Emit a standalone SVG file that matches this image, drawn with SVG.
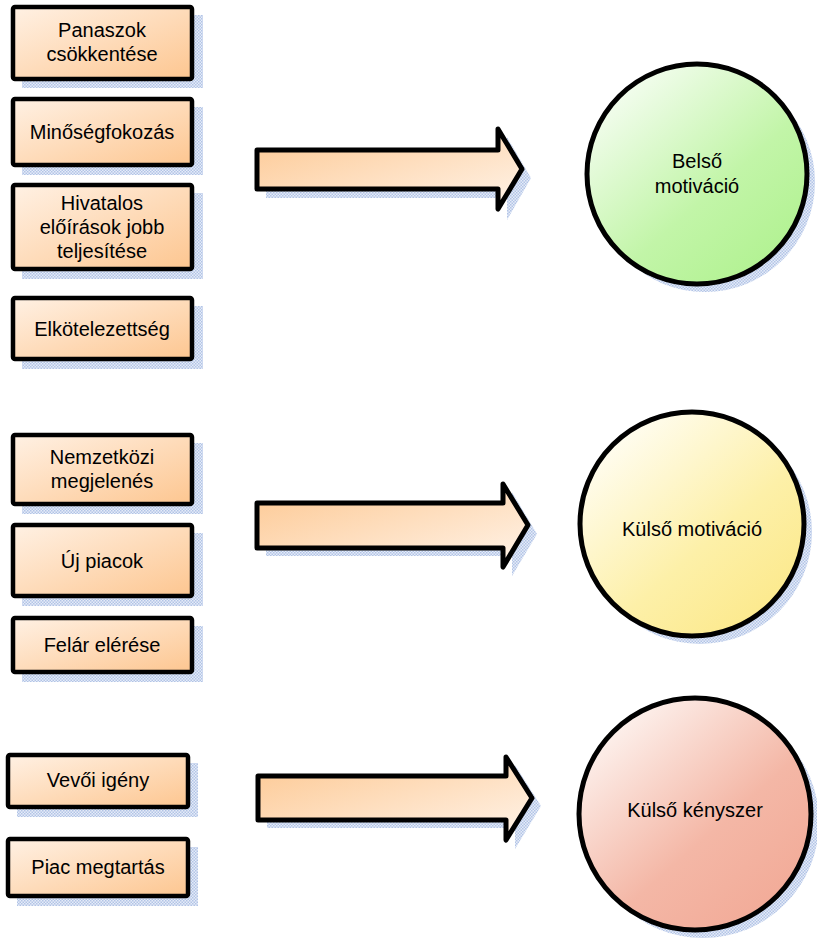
<svg xmlns="http://www.w3.org/2000/svg" width="817" height="938" viewBox="0 0 817 938">
<defs>
<pattern id="chk" width="3" height="3" patternUnits="userSpaceOnUse">
<rect width="3" height="3" fill="#dfe7f6"/>
<rect width="1.5" height="1.5" fill="#9fb5e0"/>
<rect x="1.5" y="1.5" width="1.5" height="1.5" fill="#9fb5e0"/>
</pattern>
<linearGradient id="boxg" x1="0" y1="0" x2="1" y2="1">
<stop offset="0" stop-color="#fff1e4"/>
<stop offset="1" stop-color="#fdc690"/>
</linearGradient>
<linearGradient id="arrg" x1="0" y1="0" x2="1" y2="1">
<stop offset="0" stop-color="#fdc892"/>
<stop offset="1" stop-color="#fff4ea"/>
</linearGradient>
<linearGradient id="gg" x1="0.15" y1="0.1" x2="0.85" y2="0.9">
<stop offset="0" stop-color="#f4fdf0"/>
<stop offset="0.6" stop-color="#c2f5a8"/>
<stop offset="1" stop-color="#b2f292"/>
</linearGradient>
<linearGradient id="yg" x1="0.15" y1="0.1" x2="0.85" y2="0.9">
<stop offset="0" stop-color="#fffdf2"/>
<stop offset="0.6" stop-color="#fdf0a8"/>
<stop offset="1" stop-color="#fce98c"/>
</linearGradient>
<linearGradient id="rg" x1="0.15" y1="0.1" x2="0.85" y2="0.9">
<stop offset="0" stop-color="#fdf2ee"/>
<stop offset="0.6" stop-color="#f4b7a6"/>
<stop offset="1" stop-color="#f2ab98"/>
</linearGradient>
</defs>
<style>
.box{fill:url(#boxg);stroke:#000;stroke-width:4.5;}
.sh{fill:url(#chk);opacity:0.8;}
.arr{fill:url(#arrg);stroke:#000;stroke-width:5;stroke-linejoin:round;}
.circ{stroke:#000;stroke-width:5;}
text{font-family:"Liberation Sans",Arial,sans-serif;font-size:20px;fill:#000;text-anchor:middle;}
</style>

<g id="box-panaszok">
<rect class="sh" x="22" y="15" width="181" height="73"/>
<rect class="box" x="13" y="7" width="179" height="72" rx="2"/>
<text x="102" y="37">Panaszok</text>
<text x="102" y="61">csökkentése</text>
</g>
<g id="box-minoseg">
<rect class="sh" x="22" y="107" width="181" height="68"/>
<rect class="box" x="13" y="99" width="179" height="66" rx="2"/>
<text x="102" y="139">Minőségfokozás</text>
</g>
<g id="box-hivatalos">
<rect class="sh" x="22" y="193" width="181" height="86"/>
<rect class="box" x="13" y="185" width="179" height="84" rx="2"/>
<text x="102" y="210">Hivatalos</text>
<text x="102" y="234">előírások jobb</text>
<text x="102" y="258">teljesítése</text>
</g>
<g id="box-elkot">
<rect class="sh" x="22" y="306" width="181" height="63"/>
<rect class="box" x="13" y="298" width="179" height="61" rx="2"/>
<text x="102" y="336">Elkötelezettség</text>
</g>

<g id="box-nemzetkozi">
<rect class="sh" x="22" y="443" width="181" height="71"/>
<rect class="box" x="13" y="435" width="179" height="69" rx="2"/>
<text x="102" y="464">Nemzetközi</text>
<text x="102" y="488">megjelenés</text>
</g>
<g id="box-ujpiacok">
<rect class="sh" x="22" y="533" width="181" height="73"/>
<rect class="box" x="13" y="525" width="179" height="71" rx="2"/>
<text x="102" y="568">Új piacok</text>
</g>
<g id="box-felar">
<rect class="sh" x="22" y="626" width="181" height="56"/>
<rect class="box" x="13" y="618" width="179" height="54" rx="2"/>
<text x="102" y="652">Felár elérése</text>
</g>

<g id="box-vevoi">
<rect class="sh" x="17" y="763" width="181" height="54"/>
<rect class="box" x="8" y="755" width="180" height="52" rx="2"/>
<text x="98" y="787">Vevői igény</text>
</g>
<g id="box-piac">
<rect class="sh" x="17" y="847" width="181" height="59"/>
<rect class="box" x="8" y="839" width="180" height="57" rx="2"/>
<text x="98" y="874">Piac megtartás</text>
</g>

<g id="connectors">
<path class="sh" d="M266 158 H507 V137 L531 178 L507 220 V198 H266 Z"/>
<path class="arr" d="M257 150 H498 V129 L522 169 L498 209 V189 H257 Z"/>
<path class="sh" d="M266 511 H512 V492 L537 534 L512 576 V556 H266 Z"/>
<path class="arr" d="M257 503 H503 V484 L528 525 L503 567 V548 H257 Z"/>
<path class="sh" d="M267 784 H515 V765 L541 806 L515 849 V828 H267 Z"/>
<path class="arr" d="M258 776 H506 V757 L532 798 L506 840 V820 H258 Z"/>
</g>

<g id="circle-belso">
<circle class="sh" cx="705" cy="182" r="110"/>
<circle class="circ" cx="697" cy="174" r="110" fill="url(#gg)"/>
<text x="697" y="168">Belső</text>
<text x="697" y="193">motiváció</text>
</g>
<g id="circle-kulso-mot">
<circle class="sh" cx="700" cy="532" r="112"/>
<circle class="circ" cx="692" cy="524" r="112" fill="url(#yg)"/>
<text x="692" y="536">Külső motiváció</text>
</g>
<g id="circle-kulso-keny">
<circle class="sh" cx="703" cy="822" r="116"/>
<circle class="circ" cx="695" cy="814" r="116" fill="url(#rg)"/>
<text x="695" y="817">Külső kényszer</text>
</g>
</svg>
